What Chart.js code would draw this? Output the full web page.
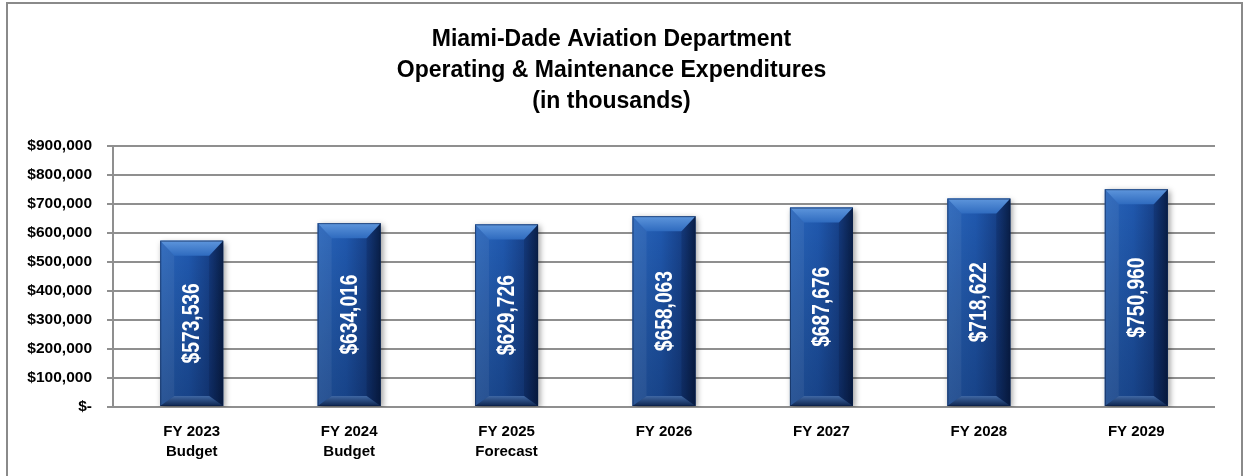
<!DOCTYPE html>
<html>
<head>
<meta charset="utf-8">
<script src="https://cdn.jsdelivr.net/npm/chart.js@4"></script>
<style>
  html, body { margin: 0; padding: 0; background: #fff; }
  #wrap { position: relative; width: 1244px; height: 476px; }
  #frame {
    position: absolute; left: 6px; top: 2px; width: 1233px; height: 490px;
    border-left: 2px solid #8a8a8a; border-top: 2px solid #8a8a8a; border-right: 2px solid #8a8a8a;
    pointer-events: none;
  }
</style>
</head>
<body>
<div id="wrap">
  <canvas id="chart" width="1244" height="476"></canvas>
  <div id="frame"></div>
</div>
<script>
const titleLines = ['Miami-Dade Aviation Department', 'Operating & Maintenance Expenditures', '(in thousands)']
const categories = [
  ['FY 2023', 'Budget'],
  ['FY 2024', 'Budget'],
  ['FY 2025', 'Forecast'],
  'FY 2026',
  'FY 2027',
  'FY 2028',
  'FY 2029'
]
const expenditures = [573536, 634016, 629726, 658063, 687676, 718622, 750960]
const yTickLabels = ['$-', '$100,000', '$200,000', '$300,000', '$400,000', '$500,000',
  '$600,000', '$700,000', '$800,000', '$900,000']

const FONT = "'Liberation Sans', Arial, sans-serif"
const GRID = '#8f8f8f'

function formatMoney(value) {
  return '$' + value.toLocaleString('en-US')
}

// shadow under the bars, then gradient + bevel + value text on top
const bevelBars = {
  id: 'bevelBars',
  beforeDatasetsDraw(chart) {
    const ctx = chart.ctx
    ctx.save()
    ctx.shadowColor = 'rgba(0,0,0,0.4)'
    ctx.shadowBlur = 6
    ctx.shadowOffsetX = 2
    ctx.shadowOffsetY = 2
  },
  afterDatasetsDraw(chart) {
    const ctx = chart.ctx
    ctx.restore()
    const meta = chart.getDatasetMeta(0)
    meta.data.forEach((bar, index) => {
      const { x, y, base, width } = bar.getProps(['x', 'y', 'base', 'width'], true)
      const L = x - width / 2
      const R = x + width / 2
      const T = y
      const B = base
      const inset = 14
      const topH = 15
      const botH = 10

      ctx.save()
      const horiz = ctx.createLinearGradient(L, 0, R, 0)
      horiz.addColorStop(0, '#2a66bb')
      horiz.addColorStop(0.45, '#2059b0')
      horiz.addColorStop(0.8, '#17418a')
      horiz.addColorStop(1, '#0b2552')
      ctx.fillStyle = horiz
      ctx.fillRect(L, T, width, B - T)

      const vert = ctx.createLinearGradient(0, T, 0, B)
      vert.addColorStop(0, 'rgba(0,0,0,0)')
      vert.addColorStop(1, 'rgba(0,8,30,0.28)')
      ctx.fillStyle = vert
      ctx.fillRect(L, T, width, B - T)

      // left facet
      ctx.beginPath()
      ctx.moveTo(L, T); ctx.lineTo(L + inset, T + topH); ctx.lineTo(L + inset, B - botH); ctx.lineTo(L, B)
      ctx.closePath()
      ctx.fillStyle = 'rgba(255,255,255,0.06)'
      ctx.fill()

      // right facet
      ctx.beginPath()
      ctx.moveTo(R, T); ctx.lineTo(R - inset, T + topH); ctx.lineTo(R - inset, B - botH); ctx.lineTo(R, B)
      ctx.closePath()
      ctx.fillStyle = 'rgba(0,0,20,0.15)'
      ctx.fill()

      // top facet
      ctx.beginPath()
      ctx.moveTo(L, T); ctx.lineTo(R, T); ctx.lineTo(R - inset, T + topH); ctx.lineTo(L + inset, T + topH)
      ctx.closePath()
      const topGrad = ctx.createLinearGradient(0, T, 0, T + topH)
      topGrad.addColorStop(0, '#5e96dc')
      topGrad.addColorStop(1, '#2f6bbf')
      ctx.fillStyle = topGrad
      ctx.fill()

      // bottom facet
      ctx.beginPath()
      ctx.moveTo(L, B); ctx.lineTo(R, B); ctx.lineTo(R - inset, B - botH); ctx.lineTo(L + inset, B - botH)
      ctx.closePath()
      const botGrad = ctx.createLinearGradient(0, B - botH, 0, B)
      botGrad.addColorStop(0, '#3f67a3')
      botGrad.addColorStop(1, '#0e2650')
      ctx.fillStyle = botGrad
      ctx.fill()

      ctx.strokeStyle = 'rgba(10,30,70,0.55)'
      ctx.lineWidth = 1
      ctx.strokeRect(L + 0.5, T + 0.5, width - 1, B - T - 1)

      // value text, rotated and condensed
      ctx.translate(x, (T + B) / 2)
      ctx.rotate(-Math.PI / 2)
      ctx.scale(0.8, 1)
      ctx.fillStyle = '#ffffff'
      ctx.font = `bold 24px ${FONT}`
      ctx.textAlign = 'center'
      ctx.textBaseline = 'middle'
      ctx.fillText(formatMoney(expenditures[index]), 0, 1)
      ctx.restore()
    })
  }
}

new Chart(document.getElementById('chart'), {
  type: 'bar',
  data: {
    labels: categories,
    datasets: [{
      data: expenditures,
      backgroundColor: '#1d56a8',
      borderWidth: 0,
      categoryPercentage: 1,
      barPercentage: 0.4
    }]
  },
  plugins: [bevelBars],
  options: {
    responsive: false,
    animation: false,
    events: [],
    layout: { padding: { left: 8, right: 29, top: 0, bottom: 0 } },
    plugins: {
      legend: { display: false },
      tooltip: { enabled: false },
      title: {
        display: true,
        text: titleLines,
        color: '#000',
        font: { family: FONT, size: 23, weight: 'bold', lineHeight: 1.348 },
        padding: { top: 24, bottom: 29 }
      }
    },
    scales: {
      x: {
        grid: { display: false, drawTicks: false },
        border: { display: false },
        ticks: {
          color: '#000',
          padding: 15,
          maxRotation: 0,
          autoSkip: false,
          font: { family: FONT, size: 15, weight: 'bold', lineHeight: 1.33 }
        },
        afterFit(scale) { scale.height = 69 }
      },
      y: {
        min: 0,
        max: 900000,
        grid: { color: GRID, lineWidth: 2, tickLength: 6, drawTicks: true },
        border: { display: true, color: GRID, width: 2 },
        ticks: {
          stepSize: 100000,
          color: '#000',
          padding: 15,
          font: { family: FONT, size: 15.5, weight: 'bold' },
          callback: (value, index) => yTickLabels[index]
        },
        afterFit(scale) { scale.width = 105 }
      }
    }
  }
})
</script>
</body>
</html>
